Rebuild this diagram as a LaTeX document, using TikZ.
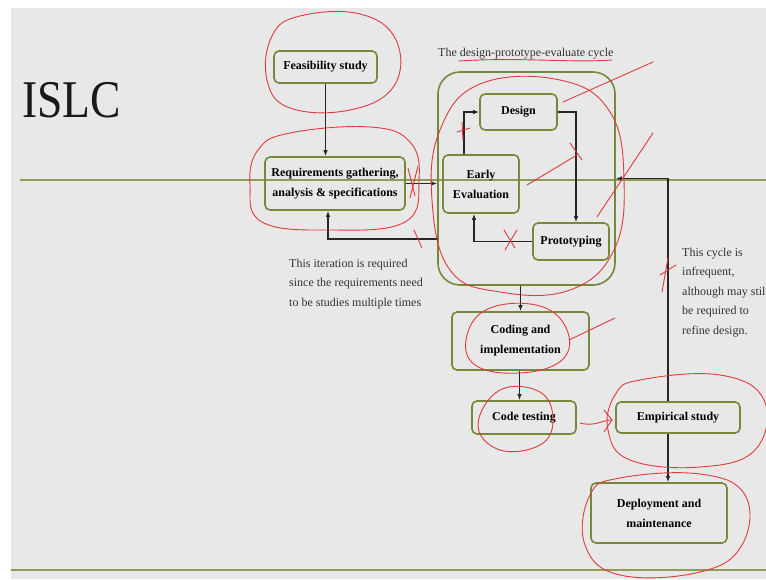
\documentclass[tikz,border=0pt]{standalone}
\usepackage{fontspec}
\setmainfont{Liberation Serif}
\usetikzlibrary{arrows.meta}
\definecolor{slidebg}{HTML}{E8E8E8}
\definecolor{olivebox}{HTML}{76883A}
\definecolor{gline}{HTML}{8E9C58}
\definecolor{pen}{HTML}{E03A3A}
\begin{document}
\begin{tikzpicture}[x=1pt,y=-1pt,
 box/.style={draw=olivebox, line width=1.6pt, rounded corners=5pt, inner sep=0pt,
   font=\bfseries\fontsize{12}{20}\selectfont, align=center, text=black},
 arr/.style={-{Latex[length=6pt,width=4.5pt]}, line width=1.2pt, draw=black!85},
 note/.style={font=\fontsize{12}{19.5}\selectfont, align=left, anchor=base west, inner sep=0pt, text=black!80},
 scrib/.style={draw=pen, line width=0.9pt, line cap=round}
]
\useasboundingbox (0,0) rectangle (766,579);
\fill[white] (0,0) rectangle (766,579);
\fill[slidebg] (11,8) rectangle (766,579);
% green rules
\draw[gline, line width=1.8pt] (20,180) -- (766,180);
\draw[gline, line width=2pt] (11,570) -- (766,570);
% title
\node[anchor=base west, inner sep=0pt, font=\fontsize{53}{53}\selectfont, xscale=0.86, text=black!90] (islc) at (22,117) {ISLC};
\node[anchor=base west, inner sep=0pt, font=\fontsize{12}{14}\selectfont, text=black!80] (cyc) at (438,56) {The design-prototype-evaluate cycle};
% boxes
\node[box, minimum width=103pt, minimum height=32pt] (feas) at (325.5,67) {Feasibility study};
\node[box, minimum width=140pt, minimum height=53pt] (req) at (335,183.5) {Requirements gathering,\\analysis \& specifications};
\node[draw=olivebox, line width=1.6pt, rounded corners=22pt, minimum width=177pt, minimum height=213pt, inner sep=0pt] (big) at (526.5,178.5) {};
\node[box, minimum width=77pt, minimum height=36pt] (design) at (518.5,112) {Design};
\node[box, minimum width=76pt, minimum height=58pt] (early) at (481,184) {Early\\Evaluation};
\node[box, minimum width=76pt, minimum height=37pt] (proto) at (571,241.5) {Prototyping};
\node[box, minimum width=137pt, minimum height=58pt] (coding) at (520.5,341) {Coding and\\implementation};
\node[box, minimum width=104pt, minimum height=33pt] (ctest) at (524,417.5) {Code testing};
\node[box, minimum width=124pt, minimum height=31pt] (emp) at (678,417.5) {Empirical study};
\node[box, minimum width=136pt, minimum height=60pt] (dep) at (659,513) {Deployment and\\maintenance};
% notes (base = baseline of last line)
\node[note] (n1) at (289,306) {This iteration is required\\since the requirements need\\to be studies multiple times};
\node[note] (n2) at (682,334) {This cycle is\\infrequent,\\although may still\\be required to\\refine design.};
% connectors
\coordinate (fb) at (438,239);
\draw[arr] (feas.south) -- (feas.south |- req.north);
\draw[arr] (req.east) -- (req.east -| big.west);
\draw[arr] (fb) -| ([xshift=-7pt]req.south);
\draw[arr] ([xshift=-17pt]early.north) |- (design.west);
\draw[arr] (design.east) -| ([xshift=5pt]proto.north);
\draw[arr] (proto.west) -| ([xshift=-7pt]early.south);
\draw[arr] (coding.north |- big.south) -- (coding.north);
\draw[arr] ([xshift=-1pt]coding.south) -- ([xshift=-1pt]coding.south |- ctest.north);
\draw[arr] ([xshift=-10pt]emp.north) |- (big.east);
\draw[arr] ([xshift=-10pt]emp.south) -- ([xshift=-10pt]emp.south |- dep.north);
% red hand annotations
\draw[scrib] plot[smooth cycle, tension=0.7] coordinates {(300,16) (360,14) (396,40) (394,86) (350,110) (290,108) (267,80) (272,36)};
\draw[scrib] plot[smooth cycle, tension=0.7] coordinates {(290,133) (370,127) (410,142) (419,180) (405,222) (330,230) (262,222) (250,185) (258,150)};
\draw[scrib] plot[smooth cycle, tension=0.7] coordinates {(480,84) (560,80) (610,112) (624,180) (614,250) (570,290) (500,292) (450,270) (432,200) (440,130)};
\draw[scrib] (459,61) .. controls (520,57) and (570,63) .. (612,60);
\draw[scrib] (563,102) -- (653,62);
\draw[scrib] (527,185) -- (577,155);
\draw[scrib] (570,143) -- (582,160);
\draw[scrib] (597,217) -- (653,133);
\draw[scrib] (457,132) -- (470,128);
\draw[scrib] (462,122) -- (463,140);
\draw[scrib] (504,230) -- (515,248);
\draw[scrib] (517,230) -- (505,250);
\draw[scrib] (408,168) -- (415,196);
\draw[scrib] (418,166) -- (410,198);
\draw[scrib] (414,230) -- (422,248);
\draw[scrib] (660,275) -- (676,265);
\draw[scrib] (668,258) -- (662,292);
\draw[scrib] plot[smooth cycle, tension=0.7] coordinates {(490,308) (540,306) (567,330) (562,360) (520,373) (475,365) (467,335)};
\draw[scrib] (569,340) -- (615,318);
\draw[scrib] plot[smooth cycle, tension=0.7] coordinates {(500,390) (540,392) (553,420) (540,445) (500,450) (478,425)};
\draw[scrib] (580,423) .. controls (595,427) and (602,420) .. (612,420);
\draw[scrib] (604,410) -- (612,420) -- (604,432);
\draw[scrib] plot[smooth cycle, tension=0.7] coordinates {(640,380) (720,375) (764,400) (755,450) (700,467) (630,460) (608,430) (615,395)};
\draw[scrib] plot[smooth cycle, tension=0.7] coordinates {(620,478) (700,474) (745,495) (742,545) (700,572) (620,575) (585,545) (590,495)};
\end{tikzpicture}
\end{document}
